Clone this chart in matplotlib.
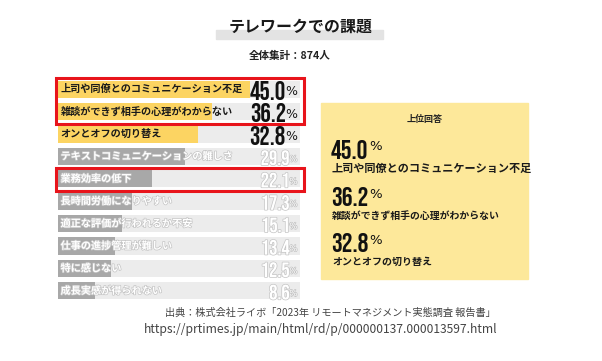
import matplotlib
matplotlib.use("Agg")
import matplotlib.pyplot as plt
import matplotlib.patheffects as pe
from matplotlib.patches import Rectangle
from matplotlib import font_manager as fm
import os

JP = ['Noto Sans CJK JP', 'DejaVu Sans']

def find_condensed():
    files = {os.path.basename(f.fname).lower(): f.fname for f in fm.fontManager.ttflist}
    prefs = ['bebasneue', 'oswald-bold', 'oswald-semibold', 'oswald', 'texgyreheroscn-bold']
    for p in prefs:
        for k in sorted(files):
            if k.startswith(p):
                return files[k]
    return None

cond_path = find_condensed()
scale_n = 1.0
if cond_path and 'bebas' in os.path.basename(cond_path).lower():
    scale_n = 1.25

def numprop(size):
    if cond_path:
        return fm.FontProperties(fname=cond_path, size=size * scale_n)
    return fm.FontProperties(family='DejaVu Sans', weight='bold', size=size * 0.8)

def pctprop(size):
    return fm.FontProperties(family='DejaVu Sans', size=size)

title = "テレワークでの課題"
subtitle = "全体集計：874人"
categories = ["上司や同僚とのコミュニケーション不足", "雑談ができず相手の心理がわからない",
              "オンとオフの切り替え", "テキストコミュニケーションの難しさ", "業務効率の低下",
              "長時間労働になりやすい", "適正な評価が行われるか不安", "仕事の進捗管理が難しい",
              "特に感じない", "成長実感が得られない"]
values = [45.0, 36.2, 32.8, 29.9, 22.1, 17.3, 15.1, 13.4, 12.5, 8.6]
top_n = 3
highlight_groups = [(0, 1), (4, 4)]
panel_title = "上位回答"
source_lines = ["出典：株式会社ライボ「2023年 リモートマネジメント実態調査 報告書」",
                "https://prtimes.jp/main/html/rd/p/000000137.000013597.html"]

W, H = 602, 361
fig = plt.figure(figsize=(W / 100, H / 100), dpi=100)
fig.patch.set_facecolor('white')

def fx(px):
    return px / W

def fy(py):
    return 1 - py / H

# bar axes
x0, x1, y0, y1 = 58, 300, 78, 302
ax = fig.add_axes([fx(x0), fy(y1), fx(x1) - fx(x0), (y1 - y0) / H])
xmax = 56.8
n = len(values)
ax.set_xlim(0, xmax)
ax.set_ylim(n - 0.5, -0.5)
ax.axis('off')
ypos = list(range(n))
ax.barh(ypos, [xmax] * n, height=0.76, color='#ececec', zorder=1)
colors = ['#fcd462' if i < top_n else '#a8a8a8' for i in range(n)]
ax.barh(ypos, values, height=0.76, color=colors, zorder=2)

renderer = fig.canvas.get_renderer()
px_per_unit = (x1 - x0) / xmax
for i, (c, v) in enumerate(zip(categories, values)):
    if i < top_n:
        ax.text(0.6, i, c, fontsize=7.3, fontweight='bold', family=JP, color='#1a1a1a',
                va='center', ha='left', zorder=3)
        pct = ax.text(xmax - 0.6, i + 0.12, "%", fontproperties=pctprop(9), color='#1a1a1a',
                      va='center', ha='right', zorder=3)
        bb = pct.get_window_extent(renderer)
        dx = bb.width / px_per_unit
        ax.text(xmax - 0.5 - dx, i + 0.05, f"{v:.1f}", fontproperties=numprop(15),
                color='#111111', va='center', ha='right', zorder=3)
    else:
        eff = [pe.withStroke(linewidth=1.0, foreground='#c4c4c4')]
        ax.text(0.6, i, c, fontsize=7.3, fontweight='bold', family=JP, color='white',
                va='center', ha='left', zorder=3, path_effects=eff)
        pct = ax.text(xmax - 0.6, i + 0.12, "%", fontproperties=pctprop(6), color='white',
                      va='center', ha='right', zorder=3, path_effects=eff)
        bb = pct.get_window_extent(renderer)
        dx = bb.width / px_per_unit
        ax.text(xmax - 0.5 - dx, i + 0.05, f"{v:.1f}", fontproperties=numprop(12),
                color='white', va='center', ha='right', zorder=3, path_effects=eff)

# red highlight boxes
row_h = (y1 - y0) / n
for a, b in highlight_groups:
    top = y0 + a * row_h
    bot = y0 + (b + 1) * row_h
    fig.patches.append(Rectangle((fx(56), fy(bot + 1)), fx(304) - fx(56), (bot - top + 1) / H,
                                 transform=fig.transFigure, fill=False, edgecolor='#e8141b',
                                 linewidth=2.2, zorder=10))

# title
fig.patches.append(Rectangle((fx(216), fy(39)), fx(383) - fx(216), 9 / H,
                             transform=fig.transFigure, color='#e3e3e3', zorder=0))
fig.text(0.5, fy(27), title, fontsize=11.5, fontweight='bold', family=JP, color='#1a1a1a',
         ha='center', va='center', zorder=2)
fig.text(fx(290), fy(56), subtitle, fontsize=7.6, fontweight='bold', family=JP,
         color='#222222', ha='center', va='center')

# right panel
fig.patches.append(Rectangle((fx(321), fy(279)), fx(528) - fx(321), (279 - 103) / H,
                             transform=fig.transFigure, color='#fde89a', zorder=0))
fig.text(fx(425), fy(119), panel_title, fontsize=6.5, fontweight='bold', family=JP,
         color='#222222', ha='center', va='center')
num_y = [149, 196, 242]
lab_y = [168, 216, 262]
lab_fs = [8.0, 7.1, 7.2]
for k in range(top_n):
    t = fig.text(fx(331), fy(num_y[k]), f"{values[k]:.1f}", fontproperties=numprop(15.5),
                 color='#111111', ha='left', va='center')
    bb = t.get_window_extent(renderer)
    fig.text(bb.x1 / W + fx(1), fy(num_y[k] - 2), "%", fontproperties=pctprop(9.5),
             color='#111111', ha='left', va='center')
    fig.text(fx(332), fy(lab_y[k]), categories[k], fontsize=lab_fs[k], fontweight='bold',
             family=JP, color='#1a1a1a', ha='left', va='center')

# source
fig.text(fx(330), fy(313), source_lines[0], fontsize=7.3, family=JP, color='#444444',
         ha='center', va='center')
fig.text(fx(321), fy(329), source_lines[1], fontsize=8.7, family=JP, color='#444444',
         ha='center', va='center')

fig.savefig('out.png', dpi=100, facecolor='white')
